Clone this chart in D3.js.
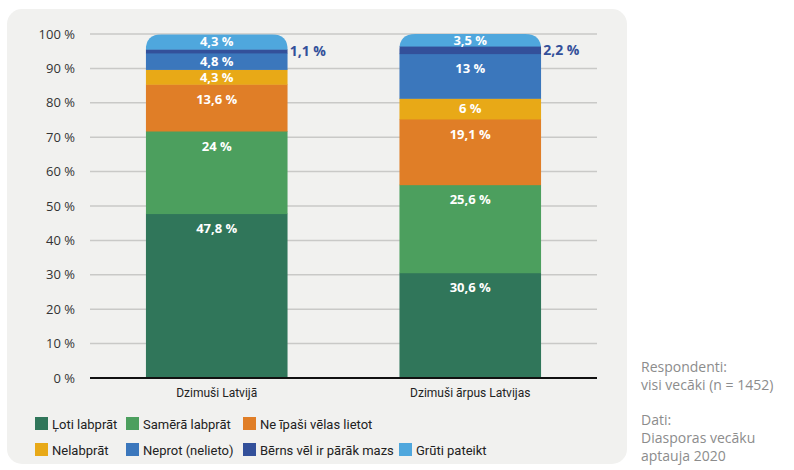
<!DOCTYPE html>
<html>
<head>
<meta charset="utf-8">
<script src="https://cdn.jsdelivr.net/npm/d3@7"></script>
<style>
	body { margin: 0; background: #fff; }
	svg { display: block; }
	text { font-family: "Open Sans", sans-serif; }
	.legend text, .cat text { font-family: Roboto, sans-serif; }
</style>
</head>
<body>
<svg id="chart" width="794" height="470"></svg>
<script>
const categories = ['Dzimuši Latvijā', 'Dzimuši ārpus Latvijas']
const seriesNames = ['Ļoti labprāt', 'Samērā labprāt', 'Ne īpaši vēlas lietot', 'Nelabprāt', 'Neprot (nelieto)', 'Bērns vēl ir pārāk mazs', 'Grūti pateikt']
const bornInLatvia = [47.8, 24, 13.6, 4.3, 4.8, 1.1, 4.3]
const bornAbroad = [30.6, 25.6, 19.1, 6, 13, 2.2, 3.5]
const colors = ['#30765a', '#4c9f5e', '#e07e27', '#e8a917', '#3b77bc', '#33509a', '#4fa7dd']
const yTicks = [0, 10, 20, 30, 40, 50, 60, 70, 80, 90, 100]
const notes = ['Respondenti:', 'visi vecāki (n = 1452)', '', 'Dati:', 'Diasporas vecāku', 'aptauja 2020']

const fmt = v => String(v).replace('.', ',') + ' %'

const svg = d3.select('#chart')

svg.append('rect')
	.attr('x', 7).attr('y', 9)
	.attr('width', 620).attr('height', 455)
	.attr('rx', 15)
	.attr('fill', '#f1f1ef')

const y = d3.scaleLinear().domain([0, 100]).range([378, 34])
const x = d3.scaleBand().domain(categories).range([90, 597]).paddingInner(0.44).paddingOuter(0.22)

// grid + tick labels
const axis = svg.append('g')
axis.selectAll('line.grid')
	.data(yTicks.filter(d => d > 0))
	.enter()
	.append('line')
	.attr('x1', 90).attr('x2', 597)
	.attr('y1', d => y(d)).attr('y2', d => y(d))
	.attr('stroke', '#c9c9c7')
	.attr('stroke-width', 1.5)

axis.selectAll('text')
	.data(yTicks)
	.enter()
	.append('text')
	.attr('x', 75)
	.attr('y', d => y(d))
	.attr('dy', '0.35em')
	.attr('text-anchor', 'end')
	.attr('font-size', 13)
	.attr('fill', '#333')
	.text(d => d + ' %')

// stacked data
const rows = categories.map((c, i) => {
	const vals = i === 0 ? bornInLatvia : bornAbroad
	let acc = 0
	return {
		cat: c,
		segs: vals.map((v, j) => {
			const s = { v, j, y0: acc, y1: acc + v }
			acc += v
			return s
		}),
		total: acc
	}
})

const defs = svg.append('defs')
const r = 16

rows.forEach((row, i) => {
	const x0 = x(row.cat), x1 = x0 + x.bandwidth()
	const top = y(row.total), bot = y(0)
	defs.append('clipPath').attr('id', 'clip' + i)
		.append('path')
		.attr('d', `M${x0},${bot}V${top + r}Q${x0},${top} ${x0 + r},${top}H${x1 - r}Q${x1},${top} ${x1},${top + r}V${bot}Z`)

	const g = svg.append('g').attr('clip-path', `url(#clip${i})`)
	g.selectAll('rect')
		.data(row.segs)
		.enter()
		.append('rect')
		.attr('x', x0)
		.attr('width', x.bandwidth())
		.attr('y', d => y(d.y1))
		.attr('height', d => y(d.y0) - y(d.y1) + 0.5)
		.attr('fill', d => colors[d.j])

	const labels = svg.append('g')
	labels.selectAll('text')
		.data(row.segs)
		.enter()
		.append('text')
		.attr('x', d => d.j === 5 ? x1 + 2 : x0 + x.bandwidth() / 2)
		.attr('y', d => {
			const t = y(d.y1), h = y(d.y0) - y(d.y1)
			return d.j === 5 ? t + h / 2 : t + Math.min(15, h / 2)
		})
		.attr('dy', '0.36em')
		.attr('text-anchor', d => d.j === 5 ? 'start' : 'middle')
		.attr('font-size', d => d.j === 5 ? 14 : 13)
		.attr('font-weight', 700)
		.attr('fill', d => d.j === 5 ? '#33509a' : '#fff')
		.text(d => fmt(d.v))
})

// baseline
svg.append('line')
	.attr('x1', 90).attr('x2', 597)
	.attr('y1', y(0)).attr('y2', y(0))
	.attr('stroke', '#111')
	.attr('stroke-width', 2)

// category labels
svg.append('g').attr('class', 'cat')
	.selectAll('text')
	.data(categories)
	.enter()
	.append('text')
	.attr('x', d => x(d) + x.bandwidth() / 2)
	.attr('y', 397)
	.attr('text-anchor', 'middle')
	.attr('font-size', 12)
	.attr('fill', '#222')
	.text(d => d)

// legend
const legendCols = [35, 126, 243, 399]
const legend = svg.append('g').attr('class', 'legend')
	.selectAll('g')
	.data(seriesNames)
	.enter()
	.append('g')
	.attr('transform', (d, i) => {
		const row = i < 3 ? 0 : 1
		const col = i < 3 ? i : i - 3
		return `translate(${legendCols[col]},${417 + row * 26})`
	})

legend.append('rect')
	.attr('width', 13).attr('height', 13)
	.attr('fill', (d, i) => colors[i])

legend.append('text')
	.attr('x', 17)
	.attr('y', 7)
	.attr('dy', '0.35em')
	.attr('font-size', 13)
	.attr('fill', '#222')
	.text(d => d)

// notes
svg.append('g')
	.selectAll('text')
	.data(notes)
	.enter()
	.append('text')
	.attr('x', 641)
	.attr('y', (d, i) => 372 + i * 18 + (i >= 3 ? -1 : 0))
	.attr('font-size', 14)
	.attr('fill', '#8c8c8c')
	.text(d => d)
</script>
</body>
</html>
